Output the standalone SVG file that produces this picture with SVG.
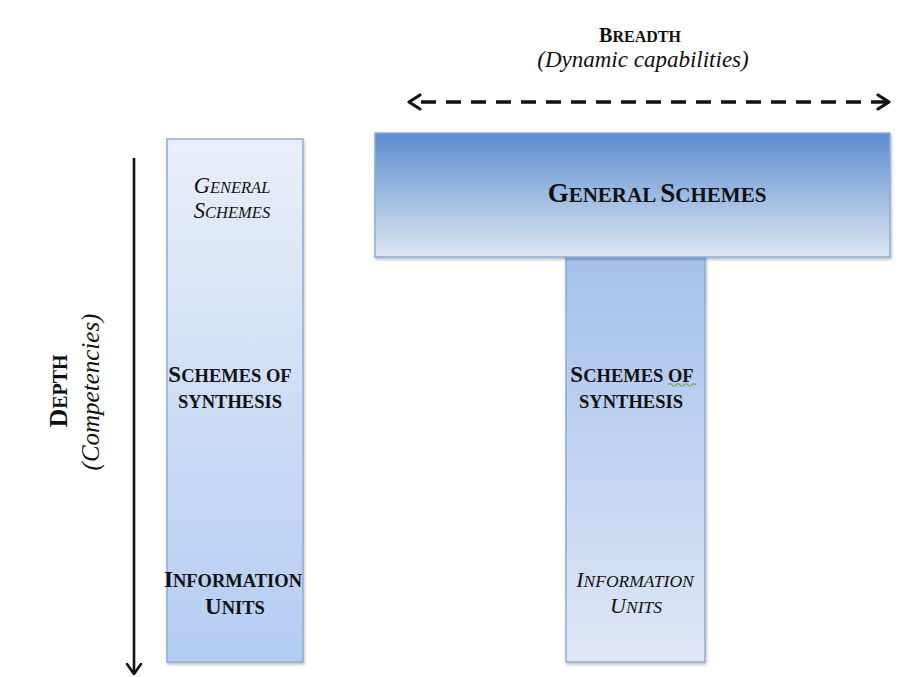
<svg xmlns="http://www.w3.org/2000/svg" width="913" height="677" viewBox="0 0 913 677">
  <style>
    text { font-family: "Liberation Serif", "Times New Roman", serif; fill: #111; }
    .b { font-weight: bold; }
    .i { font-style: italic; }
    .box { stroke: #8fabd8; stroke-width: 1.5; filter: url(#shadow); }
  </style>
  <defs>
    <linearGradient id="gCol" x1="0" y1="0" x2="0" y2="1">
      <stop offset="0" stop-color="#e9eff9"/>
      <stop offset="1" stop-color="#b4ccf2"/>
    </linearGradient>
    <linearGradient id="gBar" x1="0" y1="0" x2="0" y2="1">
      <stop offset="0" stop-color="#5a8dd0"/>
      <stop offset="1" stop-color="#dfe7f3"/>
    </linearGradient>
    <linearGradient id="gStem" x1="0" y1="0" x2="0" y2="1">
      <stop offset="0" stop-color="#a5c0ec"/>
      <stop offset="1" stop-color="#dfe7f5"/>
    </linearGradient>
    <filter id="shadow" x="-10%" y="-10%" width="120%" height="120%">
      <feDropShadow dx="1" dy="2" stdDeviation="1.5" flood-color="#000" flood-opacity="0.25"/>
    </filter>
    <marker id="chev" viewBox="0 0 16 18" refX="14" refY="9" markerWidth="16" markerHeight="18" markerUnits="userSpaceOnUse" orient="auto-start-reverse">
      <path d="M3,2 L14,9 L3,16" fill="none" stroke="#111" stroke-width="3.2" stroke-linecap="round" stroke-linejoin="round"/>
    </marker>
    <marker id="chevS" viewBox="0 0 14 18" refX="12" refY="9" markerWidth="14" markerHeight="18" markerUnits="userSpaceOnUse" orient="auto">
      <path d="M2,2 L12,9 L2,16" fill="none" stroke="#111" stroke-width="2.6" stroke-linecap="round" stroke-linejoin="round"/>
    </marker>
  </defs>

  <!-- axes -->
  <g id="connectors">
    <line x1="134" y1="158" x2="134" y2="674" stroke="#111" stroke-width="2.6" marker-end="url(#chevS)"/>
    <line x1="409" y1="102" x2="889" y2="102" stroke="#111" stroke-width="3.6" stroke-dasharray="15,10" stroke-dashoffset="-12" marker-start="url(#chev)" marker-end="url(#chev)"/>
  </g>

  <!-- axis labels -->
  <g id="breadth-label">
    <text class="b" x="640" y="42" text-anchor="middle"><tspan font-size="20">B</tspan><tspan font-size="16">READTH</tspan></text>
    <text class="i" x="643" y="67" text-anchor="middle" font-size="23">(Dynamic capabilities)</text>
  </g>
  <g id="depth-label">
    <text class="b" transform="translate(67,391) rotate(-90)" text-anchor="middle"><tspan font-size="26">D</tspan><tspan font-size="20">EPTH</tspan></text>
    <text class="i" transform="translate(99,392) rotate(-90)" text-anchor="middle" font-size="25">(Competencies)</text>
  </g>

  <!-- left column -->
  <g id="depth-column">
    <rect class="box" x="167" y="139" width="136" height="523" fill="url(#gCol)"/>
    <text class="i" x="232" y="193" text-anchor="middle"><tspan font-size="22.5">G</tspan><tspan font-size="16.5">ENERAL</tspan></text>
    <text class="i" x="232" y="218" text-anchor="middle"><tspan font-size="22.5">S</tspan><tspan font-size="16.5">CHEMES</tspan></text>
    <text class="b" x="230" y="382" text-anchor="middle"><tspan font-size="23">S</tspan><tspan font-size="18.5">CHEMES OF</tspan></text>
    <text class="b" x="230" y="408" text-anchor="middle" font-size="18.5">SYNTHESIS</text>
    <text class="b" x="233" y="587" text-anchor="middle"><tspan font-size="23">I</tspan><tspan font-size="18.5">NFORMATION</tspan></text>
    <text class="b" x="235" y="614" text-anchor="middle"><tspan font-size="23">U</tspan><tspan font-size="18.5">NITS</tspan></text>
  </g>

  <!-- T shape: stem -->
  <g id="t-stem">
    <rect class="box" x="566" y="252" width="139" height="410" fill="url(#gStem)"/>
    <text class="b" x="632" y="382" text-anchor="middle"><tspan font-size="23">S</tspan><tspan font-size="18.5">CHEMES OF</tspan></text>
    <path d="M668,385 q2,-2.5 4,0 t4,0 t4,0 t4,0 t4,0 t4,0 t4,0" fill="none" stroke="#62a83a" stroke-width="1.1"/>
    <text class="b" x="631" y="408" text-anchor="middle" font-size="18.5">SYNTHESIS</text>
    <text class="i" x="635" y="587" text-anchor="middle"><tspan font-size="22">I</tspan><tspan font-size="17.5">NFORMATION</tspan></text>
    <text class="i" x="636" y="613" text-anchor="middle"><tspan font-size="22">U</tspan><tspan font-size="17.5">NITS</tspan></text>
  </g>

  <!-- T shape: bar -->
  <g id="t-bar">
    <rect class="box" x="375" y="133" width="515" height="124" fill="url(#gBar)"/>
    <text class="b" x="657" y="202" text-anchor="middle"><tspan font-size="27">G</tspan><tspan font-size="21">ENERAL </tspan><tspan font-size="27">S</tspan><tspan font-size="21">CHEMES</tspan></text>
  </g>
</svg>
